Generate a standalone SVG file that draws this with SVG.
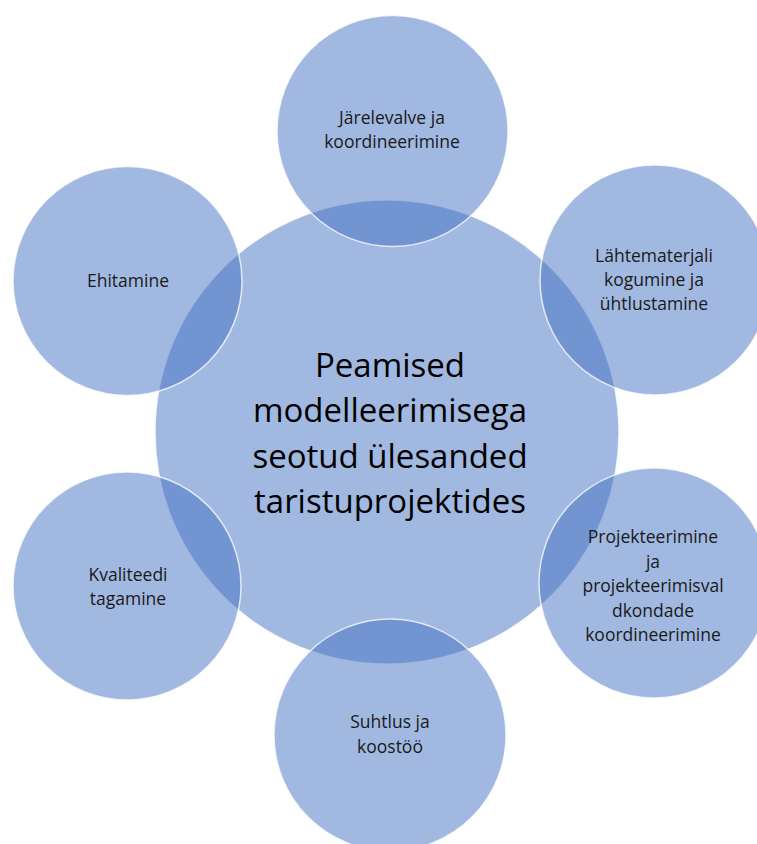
<svg xmlns="http://www.w3.org/2000/svg" width="757" height="844" viewBox="0 0 757 844">
  <style>
    .c { fill: #4472C4; fill-opacity: 0.5; stroke: #ffffff; stroke-opacity: 0.75; stroke-width: 1.5; }
    .t { font-family: "Open Sans", "Liberation Sans", sans-serif; font-size: 17.5px; fill: #1a1a1a; text-anchor: middle; }
    .m { font-family: "Open Sans", "Liberation Sans", sans-serif; font-size: 33px; fill: #000000; text-anchor: middle; }
  </style>
  <rect width="757" height="844" fill="#ffffff"/>
  <g id="center">
    <circle class="c" cx="387" cy="432" r="232"/>
    <text class="m" x="390" y="377">Peamised</text>
    <text class="m" x="390" y="422">modelleerimisega</text>
    <text class="m" x="390" y="468">seotud ülesanded</text>
    <text class="m" x="390" y="513">taristuprojektides</text>
  </g>
  <g id="jarelevalve">
    <circle class="c" cx="392.5" cy="131" r="115.5"/>
    <text class="t" x="392" y="124">Järelevalve ja</text>
    <text class="t" x="392" y="148">koordineerimine</text>
  </g>
  <g id="lahtematerjali">
    <circle class="c" cx="655" cy="280" r="115"/>
    <text class="t" x="654" y="262">Lähtematerjali</text>
    <text class="t" x="654" y="286">kogumine ja</text>
    <text class="t" x="654" y="310">ühtlustamine</text>
  </g>
  <g id="projekteerimine">
    <circle class="c" cx="654" cy="583" r="115"/>
    <text class="t" x="653" y="543">Projekteerimine</text>
    <text class="t" x="653" y="567.5">ja</text>
    <text class="t" x="653" y="592">projekteerimisval</text>
    <text class="t" x="653" y="616.5">dkondade</text>
    <text class="t" x="653" y="641">koordineerimine</text>
  </g>
  <g id="suhtlus">
    <circle class="c" cx="390" cy="735" r="116"/>
    <text class="t" x="390" y="728">Suhtlus ja</text>
    <text class="t" x="390" y="753">koostöö</text>
  </g>
  <g id="kvaliteedi">
    <circle class="c" cx="127" cy="586" r="114"/>
    <text class="t" x="128" y="581">Kvaliteedi</text>
    <text class="t" x="128" y="605">tagamine</text>
  </g>
  <g id="ehitamine">
    <circle class="c" cx="127.5" cy="281" r="114.5"/>
    <text class="t" x="128" y="287">Ehitamine</text>
  </g>
</svg>
